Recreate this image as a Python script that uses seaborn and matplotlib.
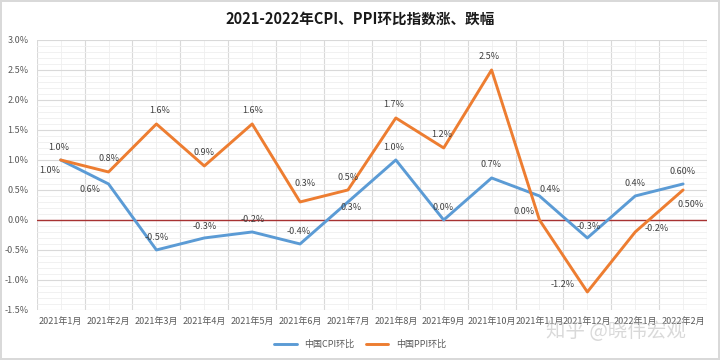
import numpy as np
import pandas as pd
import matplotlib
matplotlib.use("Agg")
import matplotlib.pyplot as plt
from matplotlib.ticker import MultipleLocator, FuncFormatter
import seaborn as sns

# data
months = ["2021年1月", "2021年2月", "2021年3月", "2021年4月", "2021年5月", "2021年6月",
          "2021年7月", "2021年8月", "2021年9月", "2021年10月", "2021年11月", "2021年12月",
          "2022年1月", "2022年2月"]
cpi = [1.0, 0.6, -0.5, -0.3, -0.2, -0.4, 0.3, 1.0, 0.0, 0.7, 0.4, -0.3, 0.4, 0.6]
ppi = [1.0, 0.8, 1.6, 0.9, 1.6, 0.3, 0.5, 1.7, 1.2, 2.5, 0.0, -1.2, -0.2, 0.5]
cpi_labels = ["1.0%", "0.6%", "-0.5%", "-0.3%", "-0.2%", "-0.4%", "0.3%", "1.0%", "0.0%",
              "0.7%", "0.4%", "-0.3%", "0.4%", "0.60%"]
ppi_labels = ["1.0%", "0.8%", "1.6%", "0.9%", "1.6%", "0.3%", "0.5%", "1.7%", "1.2%",
              "2.5%", "0.0%", "-1.2%", "-0.2%", "0.50%"]
series_names = ["中国CPI环比", "中国PPI环比"]

# label offsets in pixels (dx, dy)
cpi_off = [(-11, -11), (-19, -6), (0, 12), (0, 11), (1, 12), (-1, 12), (3, -6), (-2, 12),
           (-1, 12), (-1, 13), (11, 6), (1, 11), (0, 12), (-1, 12)]
ppi_off = [(-2, 12), (0, 13), (3, 13), (0, 13), (0, 13), (5, 18), (0, 12), (-2, 13),
           (-2, 13), (-2, 13), (-15, 8), (-25, 7), (21, 3), (8, -15)]

df = pd.DataFrame({
    "idx": list(range(len(months))) * 2,
    "value": cpi + ppi,
    "series": [series_names[0]] * len(cpi) + [series_names[1]] * len(ppi),
})

sns.set_theme(style="white")
plt.rcParams["font.family"] = ["Noto Sans CJK SC", "DejaVu Sans"]

fig = plt.figure(figsize=(7.2, 3.6), dpi=100)
fig.patch.set_edgecolor("#d9d9d9")
fig.patch.set_linewidth(1.5)
ax = fig.add_axes([0.051, 0.139, 0.931, 0.75])

colors = {"中国CPI环比": "#5B9BD5", "中国PPI环比": "#ED7D31"}
sns.lineplot(data=df, x="idx", y="value", hue="series", palette=colors,
             linewidth=2.1, ax=ax, legend=False, sort=False)

ax.set_xlim(-0.5, len(months) - 0.5)
ax.set_ylim(-1.5, 3.0)
ax.set_xticks(range(len(months)))
ax.set_xticklabels(months, fontsize=6.5, color="#595959")
ax.xaxis.set_minor_locator(MultipleLocator(1, offset=0.5))
ax.yaxis.set_major_locator(MultipleLocator(0.5))
ax.yaxis.set_minor_locator(MultipleLocator(0.1))
ax.yaxis.set_major_formatter(FuncFormatter(lambda v, p: f"{v:.1f}%"))
ax.tick_params(axis="y", labelsize=6.5, labelcolor="#595959", length=0, pad=6)
ax.tick_params(axis="x", length=0, pad=5)
ax.tick_params(which="minor", length=0)

ax.grid(False)
ax.yaxis.grid(True, which="major", color="#d9d9d9", linewidth=0.8)
ax.yaxis.grid(True, which="minor", color="#efefef", linewidth=0.6)
ax.xaxis.grid(True, which="minor", color="#d9d9d9", linewidth=0.8)
ax.set_axisbelow(True)
# lighter lines at category centres
for i in range(len(months)):
    ax.axvline(i, color="#efefef", linewidth=0.6, zorder=0)
for s in ax.spines.values():
    s.set_visible(False)
ax.axhline(0, color="#A83232", linewidth=1.0, zorder=1.5)

ax.set_xlabel("")
ax.set_ylabel("")

for i, (v, t, o) in enumerate(zip(cpi, cpi_labels, cpi_off)):
    ax.annotate(t, (i, v), xytext=o, textcoords="offset pixels", ha="center", va="center",
                fontsize=6.5, color="#404040")
for i, (v, t, o) in enumerate(zip(ppi, ppi_labels, ppi_off)):
    ax.annotate(t, (i, v), xytext=o, textcoords="offset pixels", ha="center", va="center",
                fontsize=6.5, color="#404040")

fig.text(0.5, 0.948, "2021-2022年CPI、PPI环比指数涨、跌幅", ha="center", va="center",
         fontsize=10.5, fontweight="bold", color="#1a1a1a")

handles = [plt.Line2D([], [], color=colors[n], linewidth=2.1) for n in series_names]
fig.legend(handles, series_names, loc="center", bbox_to_anchor=(0.5, 0.043), ncol=2,
           frameon=False, fontsize=6.5, handlelength=2.5, columnspacing=1.3,
           labelcolor="#595959")

# watermark
fig.text(0.855, 0.08, "知乎 @晓伟宏观", ha="center", va="center", fontsize=14,
         color="#bbbbbb", alpha=0.55)

fig.savefig("out.png", dpi=100)
